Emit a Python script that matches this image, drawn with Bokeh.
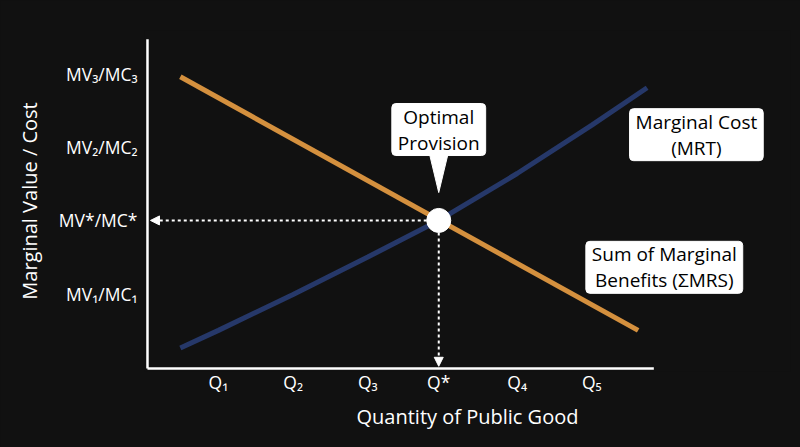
from bokeh.plotting import figure
from bokeh.embed import file_html
from bokeh.resources import INLINE
from bokeh.models import FixedTicker, Label, Arrow, NormalHead, Range1d

# ---- data ----
q_ticks = [1, 2, 3, 3.95, 5, 6]
q_labels = ["Q₁", "Q₂", "Q₃", "Q*", "Q₄", "Q₅"]
mv_ticks = [1, 2, 3, 4]
mv_labels = ["MV₁/MC₁", "MV*/MC*", "MV₂/MC₂", "MV₃/MC₃"]

benefit_x = [0.49, 6.62]
benefit_y = [3.96, 0.50]

cost_x = [0.49, 1, 2, 3, 3.95, 5, 6, 6.74]
cost_y = [0.26, 0.50, 0.99, 1.50, 2.0, 2.64, 3.30, 3.81]

q_star = 3.95
mv_star = 2.0

# axis extents (data units)
x_axis_start, x_axis_end = 0.05, 6.83
y_axis_start, y_axis_end = -0.02, 4.47

FONT = "Open Sans"
BG = "#111111"
ORANGE = "#D4903E"
NAVY = "#263869"

p = figure(width=800, height=447, output_backend="svg", toolbar_location=None,
           x_range=Range1d(0.01, 8.66), y_range=Range1d(-0.061, 4.591),
           min_border_left=144, min_border_right=10, min_border_top=30, min_border_bottom=76)
p.background_fill_color = BG
p.border_fill_color = BG
p.outline_line_color = None
p.grid.visible = False

for ax in (p.xaxis[0], p.yaxis[0]):
    ax.axis_line_color = None
    ax.major_tick_line_color = None
    ax.minor_tick_line_color = None
    ax.major_label_text_color = "white"
    ax.major_label_text_font = FONT
    ax.major_label_text_font_size = "17.5px"
    ax.axis_label_text_color = "white"
    ax.axis_label_text_font = FONT
    ax.axis_label_text_font_size = "20px"
    ax.axis_label_text_font_style = "normal"

p.xaxis.ticker = FixedTicker(ticks=q_ticks)
p.xaxis.major_label_overrides = {t: l for t, l in zip(q_ticks, q_labels)}
p.xaxis.axis_label = "Quantity of Public Good"
p.xaxis.major_label_standoff = -8
p.xaxis.axis_label_standoff = 6

p.yaxis.ticker = FixedTicker(ticks=mv_ticks)
p.yaxis.major_label_overrides = {t: l for t, l in zip(mv_ticks, mv_labels)}
p.yaxis.axis_label = "Marginal Value / Cost"
p.yaxis.major_label_standoff = 1
p.yaxis.axis_label_standoff = 13

# axis lines
p.segment(x0=[x_axis_start, x_axis_start], y0=[y_axis_start, y_axis_start],
          x1=[x_axis_end, x_axis_start], y1=[y_axis_start, y_axis_end],
          line_color="white", line_width=2.5)

# dotted guide arrows
for xs, ys, xe, ye in [(q_star, mv_star, x_axis_start + 0.04, mv_star),
                       (q_star, mv_star, q_star, y_axis_start + 0.03)]:
    p.add_layout(Arrow(x_start=xs, y_start=ys, x_end=xe, y_end=ye,
                       line_color="white", line_width=2, line_dash="3 3",
                       end=NormalHead(size=9, fill_color="white", line_color="white", line_width=1)))

p.line(cost_x, cost_y, line_color=NAVY, line_width=5)
p.line(benefit_x, benefit_y, line_color=ORANGE, line_width=5)

p.scatter([q_star], [mv_star], size=24, fill_color="white", line_color="white")

# callout pointer
p.patch([q_star - 0.12, q_star + 0.12, q_star], [2.89, 2.89, 2.38],
        fill_color="white", line_color="white")

def callout(x, y, txt):
    p.add_layout(Label(x=x, y=y, text=txt, text_align="center", text_baseline="middle",
                       text_font=FONT, text_font_size="19px", text_color="black",
                       text_line_height=1.0,
                       background_fill_color="white", border_line_color="white",
                       padding=(6, 0), border_radius=4))

callout(q_star, 3.24, "Optimal\nProvision")
callout(7.40, 3.17, "Marginal Cost\n(MRT)")
callout(6.97, 1.36, "Sum of Marginal\nBenefits (ΣMRS)")

tmpl = "{% block preamble %}<style>body{background:#111111;}</style>{% endblock %}"
open("out.html", "w").write(file_html(p, INLINE, template=tmpl))
